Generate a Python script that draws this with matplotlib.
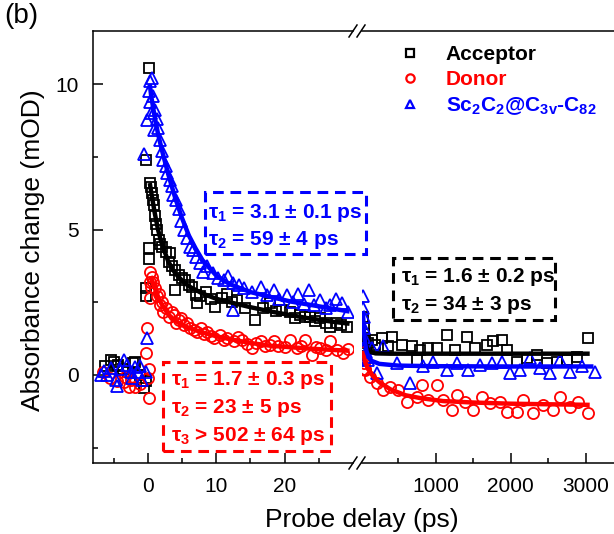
import matplotlib
matplotlib.use("Agg")
import matplotlib.pyplot as plt
import numpy as np
from matplotlib.lines import Line2D
from matplotlib.patches import Rectangle

plt.rcParams['font.family'] = ['Liberation Sans', 'DejaVu Sans']
plt.rcParams['mathtext.fontset'] = 'custom'
plt.rcParams['mathtext.rm'] = 'Liberation Sans:bold'
plt.rcParams['mathtext.it'] = 'Liberation Sans:bold'
plt.rcParams['mathtext.bf'] = 'Liberation Sans:bold'
plt.rcParams['mathtext.default'] = 'rm'

# ---------------- data ----------------
series_names = ["Acceptor", "Donor", r"Sc$_2$C$_2$@C$_{3v}$-C$_{82}$"]
series_colors = ["black", "#ff0000", "#0000ff"]

# Acceptor, short delays
acc_t = [-6.2, -5.4, -5.0, -4.5, -4.3, -3.6, -2.9, -2.1, -1.8, -1.2, -0.6, -0.3,
         0.15, -0.3, 0.3, 0.45, 0.6, 0.75, 0.9, 1.1, 1.25, 1.4, 1.6, 1.8, 0.15, 0.15,
         -0.3, -0.3, 2.1, 2.6, 3.1, 3.3, 3.6, 4.0, 4.0, 4.5, 5.0, 5.5, 6.0, 6.5, 7.0,
         7.2, 7.7, 8.5, 9.2, 9.9, 10.8, 11.6, 12.3, 13.0, 14.2, 15.7, 16.8, 17.9, 18.7,
         19.6, 20.8, 21.5, 22.3, 23.0, 23.7, 24.4, 25.2, 26.0, 26.7, 27.6, 28.3, 29.1]
acc_y = [0.3, 0.52, 0.46, 0.29, 0.34, 0.2, 0.1, 0.4, 0.46, 0.0, -0.45, -0.2,
         10.55, 7.4, 6.6, 6.45, 6.25, 6.0, 5.85, 5.45, 5.2, 5.0, 4.65, 4.5, 4.36, 4.0,
         3.0, 2.7, 4.4, 4.24, 3.9, 4.19, 3.73, 2.92, 3.6, 3.44, 3.35, 3.27, 3.1, 3.04, 2.75,
         2.47, 2.7, 2.85, 2.6, 2.35, 2.65, 2.8, 2.5, 2.58, 2.3, 1.89, 2.3, 2.47, 2.2,
         2.24, 2.18, 1.95, 2.06, 2.0, 2.0, 1.85, 1.95, 1.8, 1.66, 1.78, 1.7, 1.66]
acc_fit_t = [0.3, 0.5, 1, 1.5, 2, 3, 4, 5, 6, 8, 10, 12, 15, 18, 21, 24, 27, 29.5]
acc_fit_y = [6.6, 6.3, 5.6, 5.0, 4.55, 3.9, 3.5, 3.25, 3.05, 2.8, 2.62, 2.5, 2.33, 2.18, 2.05, 1.93, 1.83, 1.76]

# Donor, short delays
don_t = [-6.5, -5.5, -4.5, -3.5, -3.3, -2.8, -2.5, -1.8, -1.2, -0.3, -0.1, 0.15, 0.0, 0.15,
         0.4, 0.3, 0.5, 0.3, 0.64, 0.8, 1.1, 1.4, 1.6, 1.85, 2.1, 2.3, 2.7, 3.1, 3.5, 3.8,
         4.2, 4.5, 4.9, 5.3, 5.8, 6.2, 6.7, 7.2, 7.8, 8.2, 8.7, 9.2, 9.7, 10.6, 11.1, 11.6,
         12.6, 13.2, 13.8, 14.5, 15.2, 15.8, 16.5, 17.2, 17.9, 18.5, 19.1, 20.0, 20.8, 21.8,
         22.4, 23.0, 24.0, 24.6, 25.2, 26.0, 26.7, 27.6, 28.6, 29.2]
don_y = [0.1, -0.1, -0.2, -0.23, -0.06, -0.4, -0.17, -0.4, -0.3, 0.75, 1.6, 0.2, -0.1, -0.78,
         3.55, 3.2, 3.04, 2.64, 3.38, 3.2, 2.98, 2.7, 2.8, 2.4, 2.5, 2.18, 2.3, 2.0, 2.15, 2.06,
         1.8, 1.89, 1.95, 1.72, 1.8, 1.6, 1.55, 1.49, 1.6, 1.4, 1.49, 1.35, 1.26, 1.38, 1.2, 1.26,
         1.15, 1.3, 1.2, 1.05, 0.92, 1.1, 1.15, 1.0, 1.03, 1.15, 0.98, 0.95, 1.2, 0.92,
         1.0, 1.2, 0.69, 0.95, 0.92, 0.85, 1.15, 0.86, 0.75, 0.9]
don_fit_t = [0.4, 0.7, 1, 1.5, 2, 3, 4, 5, 6, 8, 10, 12, 15, 18, 21, 24, 27, 29.5]
don_fit_y = [3.4, 3.2, 3.0, 2.7, 2.45, 2.08, 1.87, 1.72, 1.62, 1.46, 1.33, 1.23, 1.1, 1.0, 0.95, 0.9, 0.86, 0.83]

# Sc2C2@C3v-C82, short delays
sc_t = [-6.9, -6.4, -5.9, -5.4, -4.7, -4.5, -4.0, -3.5, -3.0, -2.5, -2.3, -1.8, -1.4, -1.1,
        -0.8, -0.3, -0.1, -0.6, -0.1, 0.15, 0.3, 0.4, 0.5, 0.64, 0.8, 0.9, 1.1, 1.3, 1.5,
        1.85, 2.1, 2.3, 2.6, 2.8, 3.2, 3.6, 3.75, 4.1, 4.5, 4.9, 5.3, 5.7, 6.2, 6.6, 7.0,
        7.7, 8.1, 8.6, 9.6, 10.3, 11.1, 11.8, 12.5, 12.5, 13.3, 14.0, 15.2, 16.5, 17.5, 18.4,
        19.2, 20.3, 21.2, 22.0, 22.8, 23.5, 24.3, 25.2, 26.0, 26.7, 27.5, 28.4, 29.3]
sc_y = [0.0, 0.15, 0.0, 0.24, -0.17, -0.38, 0.2, 0.52, 0.34, 0.11, -0.1, 0.28, 0.11, 0.3,
        -0.17, 0.11, 1.27, 7.6, 8.77, 9.75, 10.1, 9.4, 9.0, 10.2, 9.6, 8.43, 9.1, 8.8, 8.5,
        8.08, 7.7, 7.4, 7.2, 6.95, 6.7, 6.5, 6.2, 6.0, 5.7, 5.3, 5.0, 4.7, 4.4, 4.3, 4.05,
        3.85, 3.55, 3.75, 3.5, 3.35, 3.27, 3.4, 3.16, 2.24, 3.1, 3.0, 2.85, 3.04, 2.75, 2.92,
        2.6, 2.75, 2.5, 2.8, 2.45, 2.92, 2.4, 2.58, 2.3, 2.41, 2.6, 2.47, 2.18]
sc_fit_t = [0.3, 0.5, 1, 1.5, 2, 3, 4, 5, 6, 7, 8, 10, 12, 15, 18, 21, 24, 27, 29.5]
sc_fit_y = [10.0, 9.6, 8.9, 8.3, 7.8, 6.9, 6.1, 5.4, 4.8, 4.35, 3.95, 3.42, 3.12, 2.85, 2.68, 2.52, 2.4, 2.28, 2.18]

# long delays
acc_tl = [35, 40, 50, 60, 75, 95, 148, 192, 281, 369, 414, 548, 681, 747, 791, 902, 1013, 1146,
          1257, 1412, 1523, 1679, 1766, 1878, 1945, 2078, 2211, 2344, 2477, 2610, 2743, 2876, 3031]
acc_yl = [2.0, 1.6, 1.4, 1.2, 1.0, 1.1, 1.2, 1.03, 1.26, 0.98, 1.32, 1.03, 0.98, 0.52, 0.86, 0.92, 0.92, 1.38,
          0.86, 1.32, 0.92, 1.03, 1.15, 1.2, 0.86, 0.46, 0.57, 0.69, 0.4, 0.46, 0.52, 0.63, 1.26]
acc_fit_tl = [30, 50, 80, 120, 200, 400, 1000, 2000, 3050]
acc_fit_yl = [1.76, 1.3, 0.95, 0.8, 0.74, 0.73, 0.73, 0.73, 0.73]

don_tl = [32, 38, 45, 55, 59, 126, 215, 303, 392, 503, 614, 747, 814, 902, 1013, 1101, 1213, 1279,
          1390, 1500, 1612, 1723, 1856, 1945, 2078, 2166, 2299, 2432, 2565, 2654, 2787, 2898, 3031]
don_yl = [0.8, 0.6, 0.4, 0.2, 0.17, -0.06, -0.29, -0.52, -0.4, -0.52, -0.92, -0.75, -0.34, -0.86, -0.34, -0.86, -1.2, -0.69,
          -0.92, -1.2, -0.75, -0.98, -0.92, -1.26, -1.26, -0.86, -1.32, -1.03, -1.2, -0.75, -1.09, -0.92, -1.32]
don_fit_tl = [30, 60, 100, 170, 250, 400, 600, 800, 1100, 1500, 2000, 2500, 3050]
don_fit_yl = [0.83, 0.45, 0.2, -0.06, -0.25, -0.5, -0.7, -0.8, -0.9, -0.95, -0.99, -1.01, -1.03]

sc_tl = [32, 35, 40, 45, 50, 60, 70, 85, 100, 148, 215, 303, 481, 658, 835, 968, 1146, 1279, 1434,
         1590, 1745, 1878, 1989, 2122, 2255, 2388, 2521, 2654, 2787, 2943, 3120]
sc_yl = [2.7, 2.3, 2.0, 1.6, 1.3, 1.0, 0.8, 0.6, 0.5, 0.92, 0.06, 0.98, 0.4, -0.29, 0.29, 0.46, 0.17, 0.4, 0.17,
         0.34, 0.4, 0.46, 0.06, 0.17, 0.57, 0.23, 0.06, 0.52, 0.11, 0.29, 0.11]
sc_fit_tl = [30, 45, 60, 80, 110, 150, 250, 500, 1000, 2000, 3100]
sc_fit_yl = [2.2, 1.5, 1.1, 0.8, 0.6, 0.48, 0.38, 0.32, 0.3, 0.29, 0.29]

x_ticks_short = [0, 10, 20]
x_ticks_long = [1000, 2000, 3000]
y_ticks = [0, 5, 10]

box_texts = {
    "blue": ["τ$_1$ = 3.1 ± 0.1 ps", "τ$_2$ = 59 ± 4 ps"],
    "black": ["τ$_1$ = 1.6 ± 0.2 ps", "τ$_2$ = 34 ± 3 ps"],
    "red": ["τ$_1$ = 1.7 ± 0.3 ps", "τ$_2$ = 23 ± 5 ps", "τ$_3$ > 502 ± 64 ps"],
}

# ---------------- figure ----------------
W, H = 614, 534
fig = plt.figure(figsize=(W / 100, H / 100), dpi=100)

def fx(px):
    return px / W

def fy(py):
    return 1 - py / H

axL = fig.add_axes([fx(93), fy(463), fx(353) - fx(93), fy(31) - fy(463)])
axR = fig.add_axes([fx(362), fy(463), fx(616) - fx(362), fy(31) - fy(463)])

ylim = (-3.03, 11.83)
markers = ['s', 'o', '^']
ms = [7.5, 8, 8.5]
short = [(acc_t, acc_y, acc_fit_t, acc_fit_y), (don_t, don_y, don_fit_t, don_fit_y),
         (sc_t, sc_y, sc_fit_t, sc_fit_y)]
long_ = [(acc_tl, acc_yl, acc_fit_tl, acc_fit_yl), (don_tl, don_yl, don_fit_tl, don_fit_yl),
         (sc_tl, sc_yl, sc_fit_tl, sc_fit_yl)]

for ax, sets in [(axL, short), (axR, long_)]:
    for i, (t, y, ft, fyv) in enumerate(sets):
        ax.plot(t, y, linestyle='none', marker=markers[i], ms=ms[i], mfc='none',
                mec=series_colors[i], mew=1.3, zorder=2 + i)
    for i, (t, y, ft, fyv) in enumerate(sets):
        ax.plot(ft, fyv, color=series_colors[i], lw=3.2, zorder=6, solid_capstyle='butt')
    ax.set_ylim(*ylim)
    for s in ax.spines.values():
        s.set_linewidth(1.1)

axL.set_xlim(-8, 30)
axR.set_xlim(19, 3400)
axL.spines['right'].set_visible(False)
axR.spines['left'].set_visible(False)
axR.spines['right'].set_visible(False)

axL.set_xticks(x_ticks_short)
axL.set_xticks([-5, 5, 15, 25], minor=True)
axL.set_yticks(y_ticks)
axL.set_yticks([-2.5, 2.5, 7.5], minor=True)
axR.set_xticks(x_ticks_long)
axR.set_xticks([500, 1500, 2500], minor=True)
axR.set_yticks([])
axR.tick_params(axis='y', which='both', left=False, right=False, labelleft=False)

for ax in (axL, axR):
    ax.tick_params(axis='both', which='major', direction='in', length=7, width=1.1,
                   labelsize=15, pad=10, top=False, right=False)
    ax.tick_params(axis='both', which='minor', direction='in', length=3.5, width=1.1,
                   top=False, right=False)

# break marks
for yb in (31, 463):
    for xb in (353, 361):
        fig.add_artist(Line2D([fx(xb - 4), fx(xb + 4)], [fy(yb + 6), fy(yb - 6)],
                              transform=fig.transFigure, color='black', lw=1.1))

fig.text(fx(362), fy(527), "Probe delay (ps)", ha='center', va='baseline', fontsize=19)
fig.text(fx(33), fy(250), "Absorbance change (mOD)", ha='center', va='center',
         rotation=90, fontsize=19)
fig.text(fx(4), fy(3), "(b)", ha='left', va='top', fontsize=20)

# legend
handles = [Line2D([], [], linestyle='none', marker=markers[i], ms=6, mfc='none',
                  mec=series_colors[i], mew=1.6) for i in range(3)]
leg = fig.legend(handles, series_names, loc='upper left',
                 bbox_to_anchor=(fx(400), fy(45)), frameon=False,
                 handlelength=1.0, handletextpad=1.2, labelspacing=0.3,
                 prop={'size': 15, 'weight': 'bold'}, borderaxespad=0, borderpad=0)
for txt, c in zip(leg.get_texts(), series_colors):
    txt.set_color(c)

# dashed annotation boxes
boxes = [("blue", "#0000ff", (205, 192, 366, 254), 208, [212.7, 240]),
         ("black", "black", (393, 258, 555, 320), 401, [277, 305]),
         ("red", "#ff0000", (163, 362, 331, 451), 171, [380, 408, 436])]
for key, col, (x0, y0, x1, y1), xt, ys in boxes:
    fig.add_artist(Rectangle((fx(x0), fy(y1)), fx(x1) - fx(x0), fy(y0) - fy(y1),
                             transform=fig.transFigure, fill=False, edgecolor=col,
                             lw=2.2, linestyle=(0, (3.5, 2.2)), zorder=10))
    for line, yy in zip(box_texts[key], ys):
        fig.text(fx(xt), fy(yy), line, color=col, fontsize=15, fontweight='bold',
                 ha='left', va='center', zorder=11)

fig.savefig("out.png", dpi=100)
